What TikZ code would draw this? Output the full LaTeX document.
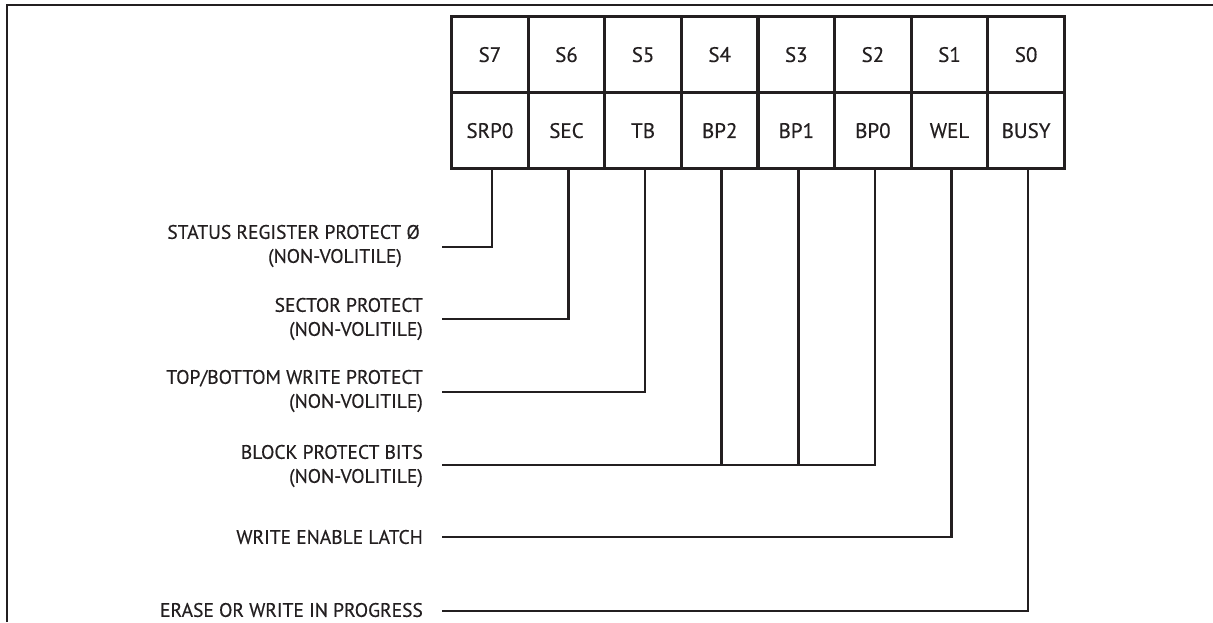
\documentclass[tikz,border=0pt]{standalone}
\usepackage{fontspec}
\setmainfont{PT Sans}[FakeBold=0.4]
\definecolor{ink}{RGB}{35,31,32}
\begin{document}
\begin{tikzpicture}[x=1pt,y=-1pt,
  cell/.style={draw=ink,line width=3.2pt,minimum width=76.6pt,minimum height=76pt,inner sep=0pt,anchor=north west,font=\fontsize{21}{24}\selectfont,text=ink},
  lbl/.style={anchor=east,align=right,inner sep=0pt,font=\fontsize{19.5}{24}\selectfont,text=ink},
  wire/.style={draw=ink,line width=2.6pt},
  frame/.style={draw=ink,line width=2pt}]
\useasboundingbox (0,0) rectangle (1213,622);
% frame
\draw[frame] (7,622) -- (7,5) -- (1213,5);
% register cells
\foreach \t [count=\i from 0] in {S7,S6,S5,S4,S3,S2,S1,S0}
  \node[cell] (t\i) at (450+76.6*\i,15) {\t};
\foreach \b/\n [count=\i from 0] in {SRP0/srp,SEC/sec,TB/tb,BP2/bpb,BP1/bpa,BP0/bpz,WEL/wel,BUSY/busy}
  \node[cell] (\n) at (450+76.6*\i,91) {\b};
% labels
\node[lbl] (l1) at (420,246) {STATUS REGISTER PROTECT Ø\\(NON-VOLITILE)\hspace*{18pt}};
\node[lbl] (l2) at (423,319) {SECTOR PROTECT\\(NON-VOLITILE)};
\node[lbl] (l3) at (423,391) {TOP/BOTTOM WRITE PROTECT\\(NON-VOLITILE)};
\node[lbl] (l4) at (423,466) {BLOCK PROTECT BITS\\(NON-VOLITILE)};
\node[lbl] (l5) at (423,537) {WRITE ENABLE LATCH};
\node[lbl] (l6) at (423,610) {ERASE OR WRITE IN PROGRESS};
% wire ends
\coordinate (e1) at (442,247);
\coordinate (e2) at (442,319);
\coordinate (e3) at (442,392);
\coordinate (e4) at (442,465);
\coordinate (e5) at (442,537);
\coordinate (e6) at (442,611);
% connectors
\draw[wire] ([xshift=2pt]srp.south) |- (e1);
\draw[wire] ([xshift=2pt]sec.south) |- (e2);
\draw[wire] ([xshift=2pt]tb.south) |- (e3);
\draw[wire] ([xshift=2pt]bpz.south) |- (e4);
\draw[wire] ([xshift=2pt]bpb.south) -- ([xshift=2pt]bpb.south |- e4);
\draw[wire] ([xshift=2pt]bpa.south) -- ([xshift=2pt]bpa.south |- e4);
\draw[wire] ([xshift=2pt]wel.south) |- (e5);
\draw[wire] ([xshift=2pt]busy.south) |- (e6);
\end{tikzpicture}
\end{document}
